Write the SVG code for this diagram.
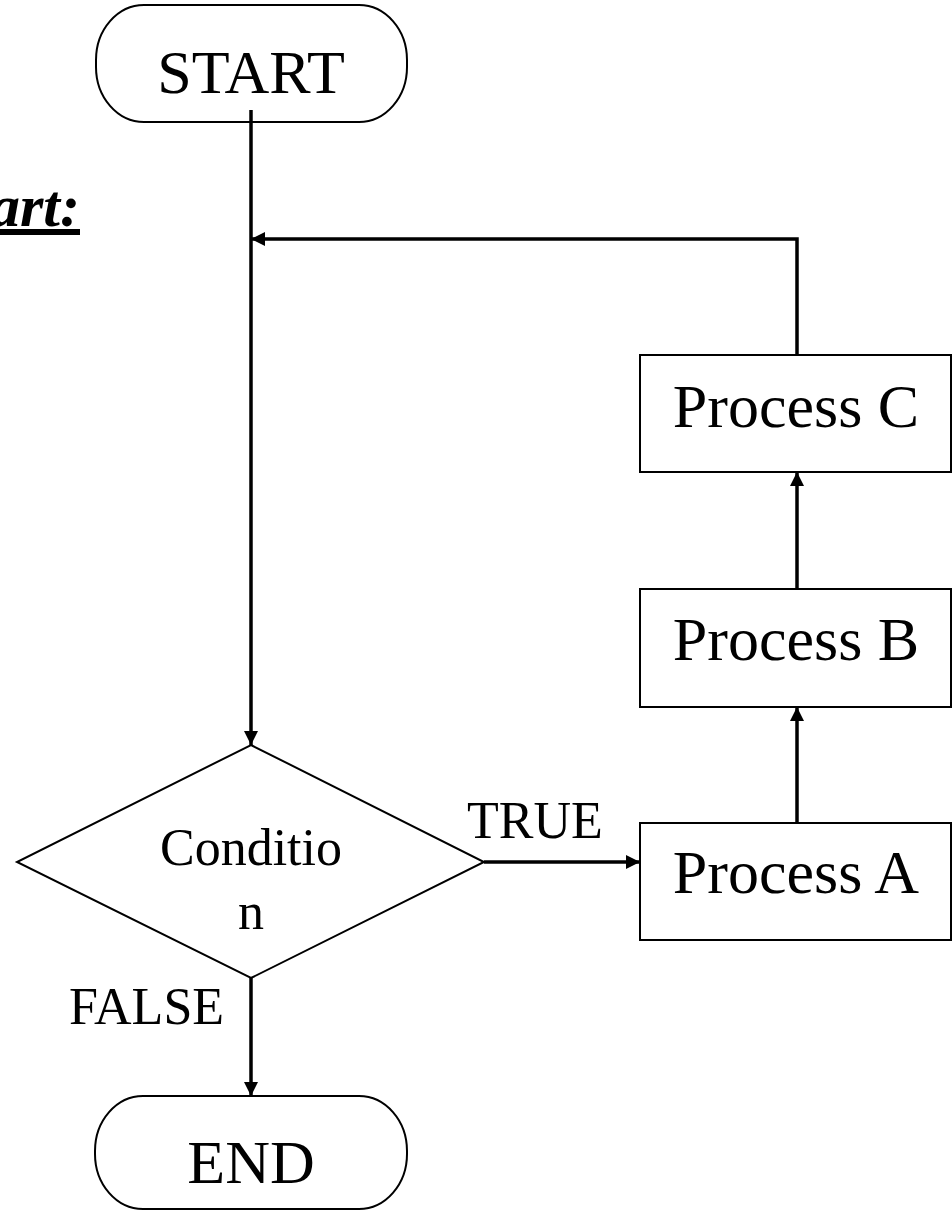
<svg xmlns="http://www.w3.org/2000/svg" width="952" height="1211" viewBox="0 0 952 1211">
<style>
.shape{fill:#fff;stroke:#000;stroke-width:2}
.conn{fill:none;stroke:#000;stroke-width:3.5}
.t{font-family:"Liberation Serif","Times New Roman",serif;fill:#000}
.big{font-size:62px;text-anchor:middle}
.mid{font-size:52px}
</style>
<defs>
<marker id="arr" markerUnits="userSpaceOnUse" markerWidth="15" markerHeight="14" refX="14" refY="7" orient="auto">
<path d="M0,0 L14,7 L0,14 z" fill="#000"/>
</marker>
</defs>
<g id="title">
<text class="t" x="80" y="226" text-anchor="end" font-size="60" font-weight="bold" font-style="italic" text-decoration="underline">art:</text>
</g>
<g id="start">
<rect class="shape" x="96" y="5" width="311" height="117" rx="48" ry="55"/>
<text class="t big" x="251" y="93">START</text>
</g>
<g id="condition">
<polygon class="shape" points="251,745 484,862 251,978 17,862"/>
<text class="t mid" x="251" y="865" text-anchor="middle">Conditio</text>
<text class="t mid" x="251" y="929" text-anchor="middle">n</text>
</g>
<g id="processA">
<rect class="shape" x="640" y="823" width="311" height="117"/>
<text class="t big" x="796" y="893">Process A</text>
</g>
<g id="processB">
<rect class="shape" x="640" y="589" width="311" height="118"/>
<text class="t big" x="796" y="660">Process B</text>
</g>
<g id="processC">
<rect class="shape" x="640" y="355" width="311" height="117"/>
<text class="t big" x="796" y="427">Process C</text>
</g>
<g id="end">
<rect class="shape" x="95" y="1096" width="312" height="113" rx="48" ry="55"/>
<text class="t big" x="251" y="1183">END</text>
</g>
<g id="connectors">
<path class="conn" d="M251,110 L251,745" marker-end="url(#arr)"/>
<path class="conn" d="M797,355 L797,239 L251,239" marker-end="url(#arr)"/>
<path class="conn" d="M797,589 L797,472" marker-end="url(#arr)"/>
<path class="conn" d="M797,823 L797,707" marker-end="url(#arr)"/>
<path class="conn" d="M484,862 L640,862" marker-end="url(#arr)"/>
<path class="conn" d="M251,978 L251,1096" marker-end="url(#arr)"/>
<text class="t mid" x="467" y="838">TRUE</text>
<text class="t mid" x="69" y="1024">FALSE</text>
</g>
</svg>
